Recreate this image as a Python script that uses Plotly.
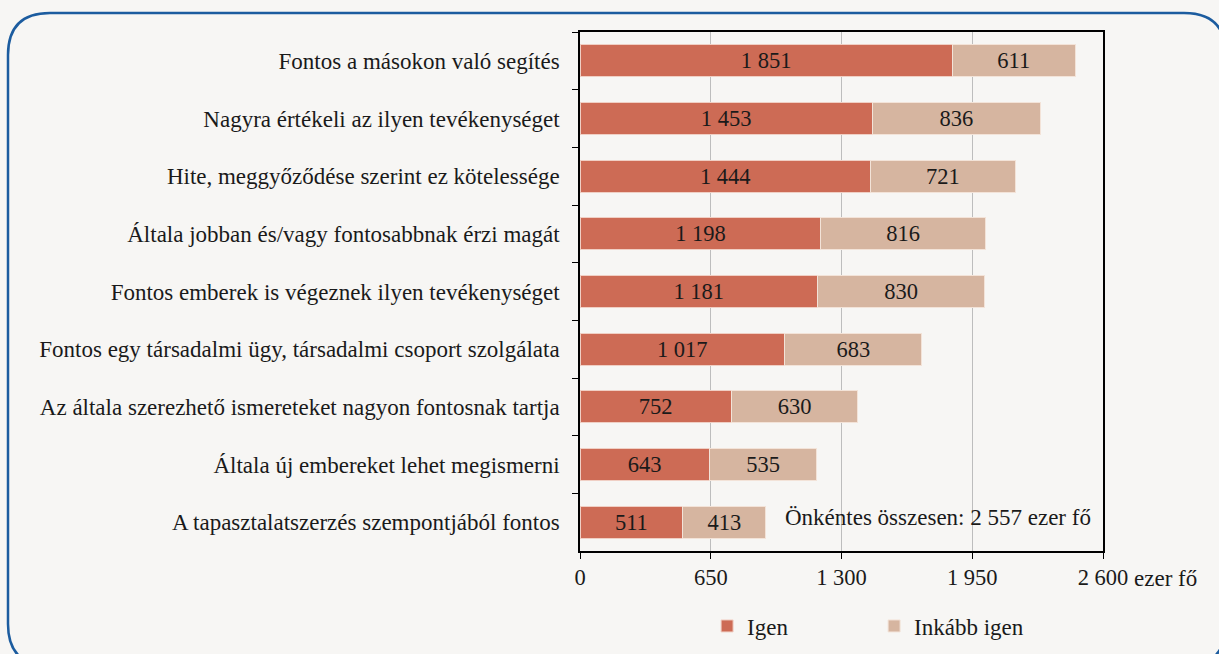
import plotly.graph_objects as go

categories = [
    "Fontos a másokon való segítés",
    "Nagyra értékeli az ilyen tevékenységet",
    "Hite, meggyőződése szerint ez kötelessége",
    "Általa jobban és/vagy fontosabbnak érzi magát",
    "Fontos emberek is végeznek ilyen tevékenységet",
    "Fontos egy társadalmi ügy, társadalmi csoport szolgálata",
    "Az általa szerezhető ismereteket nagyon fontosnak tartja",
    "Általa új embereket lehet megismerni",
    "A tapasztalatszerzés szempontjából fontos",
]
igen = [1851, 1453, 1444, 1198, 1181, 1017, 752, 643, 511]
inkabb_igen = [611, 836, 721, 816, 830, 683, 630, 535, 413]
tick_vals = [0, 650, 1300, 1950, 2600]
tick_text = ["0", "650", "1 300", "1 950", "2 600"]
total_note = "Önkéntes összesen: 2 557 ezer fő"
unit_note = "ezer fő"


def fmt(v):
    return f"{v:,}".replace(",", " ")


FONT = "Liberation Serif"
W, H = 1219, 654
L, R, T, B = 580, 1103, 32, 551

fig = go.Figure()
fig.add_trace(go.Bar(
    y=categories, x=igen, name="Igen", orientation="h",
    marker=dict(color="#cd6b55", line=dict(color="#f0cfc4", width=1)),
    text=[fmt(v) for v in igen], textposition="inside", insidetextanchor="middle",
    textfont=dict(family=FONT, size=22.5, color="#1a1a1a"),
))
fig.add_trace(go.Bar(
    y=categories, x=inkabb_igen, name="Inkább igen", orientation="h",
    marker=dict(color="#d6b5a0", line=dict(color="#f3e3d8", width=1)),
    text=[fmt(v) for v in inkabb_igen], textposition="inside", insidetextanchor="middle",
    textfont=dict(family=FONT, size=22.5, color="#1a1a1a"),
))


def px(x):
    return (x - L) / (R - L)


def py(y):
    return (B - y) / (B - T)


bl, bt, br, bb, r = 8, 13, 1226, 666, 42
path = (
    f"M {px(bl)},{py(bt + r)} Q {px(bl)},{py(bt)} {px(bl + r)},{py(bt)} "
    f"L {px(br - r)},{py(bt)} Q {px(br)},{py(bt)} {px(br)},{py(bt + r)} "
    f"L {px(br)},{py(bb - r)} Q {px(br)},{py(bb)} {px(br - r)},{py(bb)} "
    f"L {px(bl + r)},{py(bb)} Q {px(bl)},{py(bb)} {px(bl)},{py(bb - r)} Z"
)

fig.update_layout(
    width=W, height=H,
    margin=dict(l=L, r=W - R, t=T, b=H - B, autoexpand=False),
    barmode="stack", bargap=0.44,
    paper_bgcolor="#f7f6f4", plot_bgcolor="#f7f6f4",
    font=dict(family=FONT, size=22, color="#1a1a1a"),
    showlegend=True,
    legend=dict(orientation="h", x=0.243, y=-0.1445, xanchor="left", yanchor="middle",
                traceorder="normal",
                font=dict(family=FONT, size=23), entrywidth=122, entrywidthmode="pixels",
                itemwidth=30, bgcolor="rgba(0,0,0,0)"),
    xaxis=dict(range=[0, 2600], tickvals=tick_vals, ticktext=tick_text,
               showgrid=True, gridcolor="#bdbdbd", gridwidth=1,
               showline=True, linecolor="#000000", linewidth=1.5, mirror=True,
               ticks="outside", ticklen=6, tickcolor="#000000", zeroline=False,
               ticklabelstandoff=-1,
               tickfont=dict(family=FONT, size=22.5)),
    yaxis=dict(autorange="reversed", showline=True, linecolor="#000000", linewidth=1.5,
               mirror=True, ticks="outside", tickson="boundaries", ticklen=6,
               tickcolor="#000000", ticklabelstandoff=14,
               tickfont=dict(family=FONT, size=23)),
    shapes=[dict(type="path", path=path, xref="paper", yref="paper",
                 line=dict(color="#1c5c9f", width=2.5), fillcolor="rgba(0,0,0,0)")],
    annotations=[
        dict(text=total_note, x=px(1093), y=categories[-1], xref="paper", yref="y",
             xanchor="right", yanchor="middle", showarrow=False,
             font=dict(family=FONT, size=23), yshift=5),
        dict(text=unit_note, x=1.0, y=0, xref="paper", yref="paper",
             xanchor="left", yanchor="middle", showarrow=False, xshift=29, yshift=-27,
             font=dict(family=FONT, size=23)),
    ],
)

fig.write_html(
    "out.html",
    config={"displayModeBar": False},
    post_script="document.body.style.margin='0';document.body.style.overflow='hidden';"
                "document.body.style.background='#f7f6f4';",
)
